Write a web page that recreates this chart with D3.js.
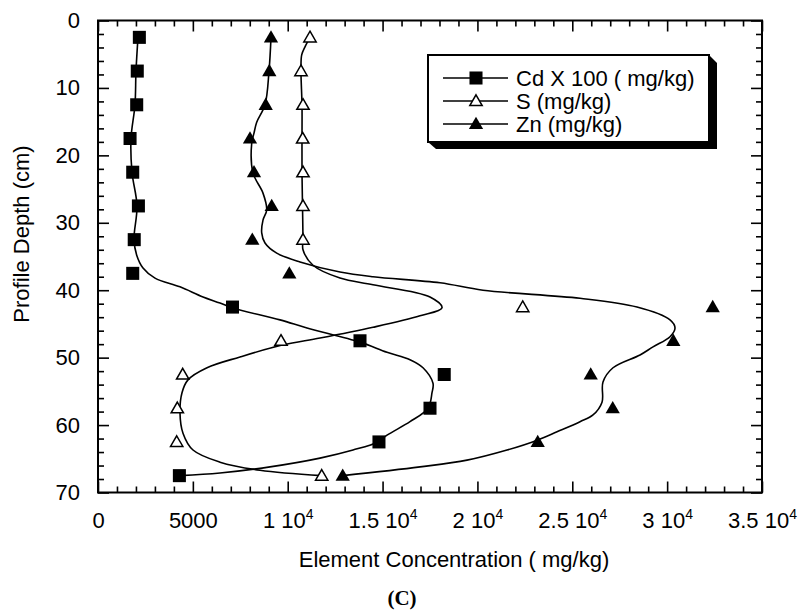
<!DOCTYPE html>
<html>
<head>
<meta charset="utf-8">
<script src="https://cdn.jsdelivr.net/npm/d3@7"></script>
<style>
  body { margin: 0; background: #fff; }
  svg { display: block; }
  .axis text { font-family: "Liberation Sans", Arial, sans-serif; font-size: 22px; fill: #000; }
  .axis line { stroke: #000; stroke-width: 1.6; }
  .axis path { display: none; }
</style>
</head>
<body>
<div id="container"></div>
<script>
// sampling depths (cm), midpoints of 5 cm layers
const depths = [2.5, 7.5, 12.5, 17.5, 22.5, 27.5, 32.5, 37.5, 42.5, 47.5, 52.5, 57.5, 62.5, 67.5];

// measured points (mg/kg), Cd already multiplied by 100
const cdX100 = [2180, 2070, 2040, 1690, 1830, 2130, 1910, 1830, 7090, 13810, 18250, 17500, 14810, 4290];
const sulfur = [11175, 10700, 10806, 10790, 10806, 10806, 10806, null, 22387, 9646, 4465, 4180, 4148, 11792];
const zinc   = [9119, 9030, 8840, 8012, 8223, 9156, 8133, 10084, 32402, 30325, 25971, 27131, 23178, 12899];

// smoothed curves as drawn in the figure: [depth, value]
const cdFit = [[2.5, 2108], [7.5, 2003], [12.5, 1950], [17.5, 1740], [22.5, 1792], [27.5, 2056], [32.5, 1898],
  [34.8, 2040], [36.7, 2372], [38.2, 3005], [39.5, 4322], [41.0, 5535], [41.9, 6431], [42.6, 7063],
  [44.4, 9594], [45.6, 11017], [47.7, 13811], [49.2, 15234], [50.3, 16446], [51.5, 17131], [53.8, 17658],
  [55.2, 17606], [57.5, 17395], [59.5, 16446], [61.5, 15234], [62.5, 14759], [63.7, 13441], [64.9, 11702],
  [66.2, 9066], [67.1, 6431], [67.5, 4322]];
const sFit = [[2.5, 11175], [3.9, 10911], [5.1, 10737], [7.5, 10700], [12.5, 10753], [17.5, 10753],
  [22.5, 10753], [27.5, 10780], [32.5, 10806], [34.0, 10806], [36.3, 11333], [38.2, 12756], [39.2, 14496],
  [41.0, 17500], [42.6, 18133], [43.8, 16973], [45.5, 14496], [47.1, 11702], [48.1, 9752], [49.9, 7485],
  [51.5, 5746], [53.3, 4744], [55.2, 4428], [58.2, 4322], [61.2, 4480], [63.7, 5008], [65.5, 6431],
  [66.7, 8539], [67.5, 11792]];
const znFit = [[2.5, 9119], [7.5, 9014], [12.5, 8803], [15.1, 8365], [16.7, 8223], [18.2, 8102],
  [22.6, 8170], [25.6, 8697], [28.1, 8893], [29.6, 8697], [31.5, 8629], [33.0, 8803], [34.5, 9420],
  [35.8, 10648], [37.3, 12756], [38.0, 14496], [38.9, 18027], [40.0, 20294], [41.2, 25407], [42.5, 28412],
  [44.4, 30151], [45.6, 30415], [46.9, 30151], [48.4, 29255], [49.6, 28570], [51.5, 27147], [53.6, 26619],
  [56.6, 26567], [58.5, 26092], [59.5, 25407], [61.0, 24195], [62.2, 23193], [63.7, 21559], [65.2, 19451],
  [66.2, 16973], [67.5, 12899]];

const xMajor = [0, 5000, 10000, 15000, 20000, 25000, 30000, 35000];
const yMajor = [0, 10, 20, 30, 40, 50, 60, 70];
const legendLabels = ["Cd X 100 ( mg/kg)", "S (mg/kg)", "Zn (mg/kg)"];

const width = 803, height = 614;
const plot = {left: 98, right: 762, top: 20.5, bottom: 492.5};

const svg = d3.select("#container").append("svg")
    .attr("width", width)
    .attr("height", height);

const xScale = d3.scaleLinear([0, 35000], [plot.left, plot.right]);
const yScale = d3.scaleLinear([0, 70], [plot.top, plot.bottom]);

const xMinor = d3.range(0, 35001, 1000).filter(v => v % 5000 !== 0);
const yMinor = d3.range(0, 71, 2).filter(v => v % 10 !== 0);

// label like "1.5 10^4"
function xLabel(sel) {
    sel.each(function(d) {
        const t = d3.select(this).text("");
        if (d < 10000) {
            t.text(d);
        } else {
            t.append("tspan").text((d / 10000) + " 10");
            t.append("tspan").attr("dy", -9).style("font-size", "14px").text("4");
        }
    });
}

// bottom / top
svg.append("g").attr("class", "axis")
    .attr("transform", `translate(0,${plot.bottom})`)
    .call(d3.axisBottom(xScale).tickValues(xMinor).tickSize(-6).tickFormat(""));
svg.append("g").attr("class", "axis")
    .attr("transform", `translate(0,${plot.bottom})`)
    .call(d3.axisBottom(xScale).tickValues(xMajor).tickSize(-11).tickPadding(20))
    .selectAll("text").call(xLabel);
svg.append("g").attr("class", "axis")
    .attr("transform", `translate(0,${plot.top})`)
    .call(d3.axisTop(xScale).tickValues(xMinor).tickSize(-6).tickFormat(""));
svg.append("g").attr("class", "axis")
    .attr("transform", `translate(0,${plot.top})`)
    .call(d3.axisTop(xScale).tickValues(xMajor).tickSize(-11).tickFormat(""));

// left / right
svg.append("g").attr("class", "axis")
    .attr("transform", `translate(${plot.left},0)`)
    .call(d3.axisLeft(yScale).tickValues(yMinor).tickSize(-6).tickFormat(""));
svg.append("g").attr("class", "axis")
    .attr("transform", `translate(${plot.left},0)`)
    .call(d3.axisLeft(yScale).tickValues(yMajor).tickSize(-11).tickPadding(18));
svg.append("g").attr("class", "axis")
    .attr("transform", `translate(${plot.right},0)`)
    .call(d3.axisRight(yScale).tickValues(yMinor).tickSize(-6).tickFormat(""));
svg.append("g").attr("class", "axis")
    .attr("transform", `translate(${plot.right},0)`)
    .call(d3.axisRight(yScale).tickValues(yMajor).tickSize(-11).tickFormat(""));

// frame
svg.append("rect")
    .attr("x", plot.left).attr("y", plot.top)
    .attr("width", plot.right - plot.left)
    .attr("height", plot.bottom - plot.top)
    .attr("fill", "none").attr("stroke", "#000").attr("stroke-width", 2);

// fitted curves
const line = d3.line()
    .x(d => xScale(d[1]))
    .y(d => yScale(d[0]))
    .curve(d3.curveCatmullRom.alpha(0.5));

[cdFit, sFit, znFit].forEach(function(fit) {
    svg.append("path")
        .datum(fit)
        .attr("d", line)
        .attr("fill", "none")
        .attr("stroke", "#000")
        .attr("stroke-width", 1.6);
});

const square = d3.symbol(d3.symbolSquare, 170);
const triFilled = d3.symbol(d3.symbolTriangle, 88);
const triOpen = d3.symbol(d3.symbolTriangle, 66);

const series = [
    {values: cdX100, sym: square, fill: "#000", stroke: "none"},
    {values: sulfur, sym: triOpen, fill: "#fff", stroke: "#000"},
    {values: zinc, sym: triFilled, fill: "#000", stroke: "none"}
];

series.forEach(function(s) {
    const pts = depths.map((d, i) => ({depth: d, value: s.values[i]}))
        .filter(p => p.value !== null);
    svg.append("g").selectAll("path")
        .data(pts)
        .join("path")
        .attr("d", s.sym)
        .attr("transform", p => `translate(${xScale(p.value)},${yScale(p.depth) + (s.sym === square ? 0 : 1)})`)
        .attr("fill", s.fill)
        .attr("stroke", s.stroke)
        .attr("stroke-width", 1.5);
});

// legend, with a bevelled drop shadow
const legend = svg.append("g");
legend.append("polygon")
    .attr("points", "709,55 717,63 717,149 436,149 428,142")
    .attr("fill", "#000");
legend.append("rect")
    .attr("x", 428).attr("y", 55).attr("width", 281).attr("height", 87)
    .attr("fill", "#fff").attr("stroke", "#000").attr("stroke-width", 2);

const legendRows = [78, 101, 124];
legendLabels.forEach(function(label, i) {
    const yy = legendRows[i];
    legend.append("line")
        .attr("x1", 443).attr("x2", 508).attr("y1", yy).attr("y2", yy)
        .attr("stroke", "#000").attr("stroke-width", 1.6);
    legend.append("path")
        .attr("d", series[i].sym)
        .attr("transform", `translate(476,${yy + (i === 0 ? 0 : 1)})`)
        .attr("fill", series[i].fill)
        .attr("stroke", series[i].stroke)
        .attr("stroke-width", 1.5);
    legend.append("text")
        .attr("x", 516).attr("y", yy + 7.5)
        .style("font-family", "'Liberation Sans', Arial, sans-serif")
        .style("font-size", "22px")
        .text(label);
});

// axis titles
svg.append("text")
    .attr("x", 454).attr("y", 567)
    .attr("text-anchor", "middle")
    .style("font-family", "'Liberation Sans', Arial, sans-serif")
    .style("font-size", "22px")
    .text("Element Concentration ( mg/kg)");

svg.append("text")
    .attr("transform", "translate(29,234) rotate(-90)")
    .attr("text-anchor", "middle")
    .style("font-family", "'Liberation Sans', Arial, sans-serif")
    .style("font-size", "22px")
    .text("Profile Depth (cm)");

svg.append("text")
    .attr("x", 402).attr("y", 605)
    .attr("text-anchor", "middle")
    .style("font-family", "'Liberation Serif', 'Times New Roman', serif")
    .style("font-size", "21px")
    .style("font-weight", "bold")
    .text("(C)");
</script>
</body>
</html>
